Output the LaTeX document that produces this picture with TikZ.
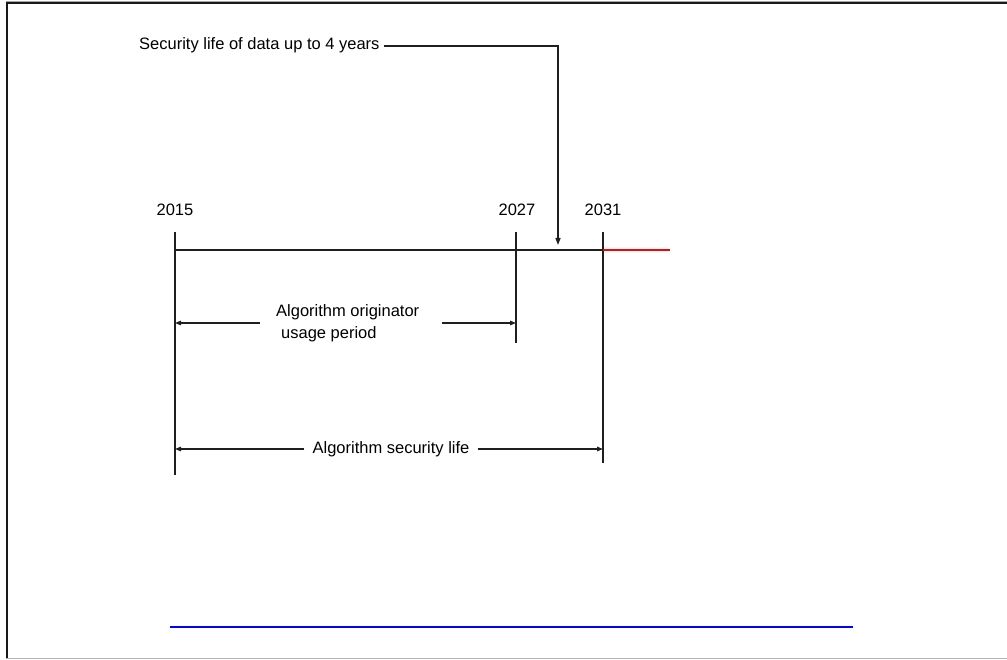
\documentclass[tikz,border=0pt]{standalone}
\usepackage{fontspec}
\setmainfont{Liberation Sans}
\usetikzlibrary{arrows.meta}
\begin{document}
\begin{tikzpicture}[x=1pt,y=-1pt,
  lbl/.style={font=\fontsize{16.5}{22}\selectfont, inner sep=0pt},
  ink/.style={draw=black!88, line width=1.3pt},
  tick/.style={draw=black!88, line width=1.7pt},
  arr/.style={ink, -{Triangle[length=6pt,width=4.5pt]}}]
\useasboundingbox (0,0) rectangle (1007,660);
% frame
\draw[black!35, line width=1.2pt] (6,1.2) -- (1007,1.2);
\draw[black!90, line width=2pt] (6,3.5) -- (1007,3.5);
\draw[black!90, line width=2pt] (6.5,3) -- (6.5,658);
\draw[black!30, line width=1.5pt] (6,658.5) -- (1007,658.5);

% coordinates of ticks
\coordinate (a1) at (175,232); \coordinate (a2) at (175,475);
\coordinate (b1) at (516,232); \coordinate (b2) at (516,343);
\coordinate (c1) at (603,232); \coordinate (c2) at (603,463);
\coordinate (hl) at (175,250); \coordinate (hr) at (603,250);
\coordinate (rr) at (670,250);

% year labels
\node[lbl] (y15) at (175,210) {2015};
\node[lbl] (y27) at (517,210) {2027};
\node[lbl] (y31) at (603,210) {2031};

% verticals and timeline
\draw[tick] (a1) -- (a2);
\draw[tick] (b1) -- (b2);
\draw[tick] (c1) -- (c2);
\draw[ink] (hl) -- (hr);
\draw[red, line width=1.3pt] (hr) -- (rr);

% top label with leader
\node[lbl, anchor=west, inner xsep=4pt] (sec) at (135,45) {Security life of data up to 4 years};
\coordinate (corner) at (558,46);
\coordinate (tip) at (558,245);
\draw[ink, -{Triangle[length=7pt,width=5pt]}] (sec.east |- corner) -- (corner) -- (tip);

% originator usage period
\node[lbl, align=left, anchor=west] (orig) at (276,323) {Algorithm originator\\\hspace{5pt}usage period};
\draw[arr] ([xshift=-16pt]orig.west) -- (orig.west -| a1);
\draw[arr] ([xshift=23pt]orig.east |- orig.west) -- (orig.west -| b1);

% security life
\node[lbl, inner xsep=8pt] (life) at (391,449) {Algorithm security life};
\draw[arr] (life.west) -- (life.west -| a1);
\draw[arr] (life.east) -- (life.east -| c1);

% blue line
\coordinate (bl) at (170,627); \coordinate (br) at (853,627);
\draw[blue, line width=2.5pt] (bl) -- (br);
\end{tikzpicture}
\end{document}
